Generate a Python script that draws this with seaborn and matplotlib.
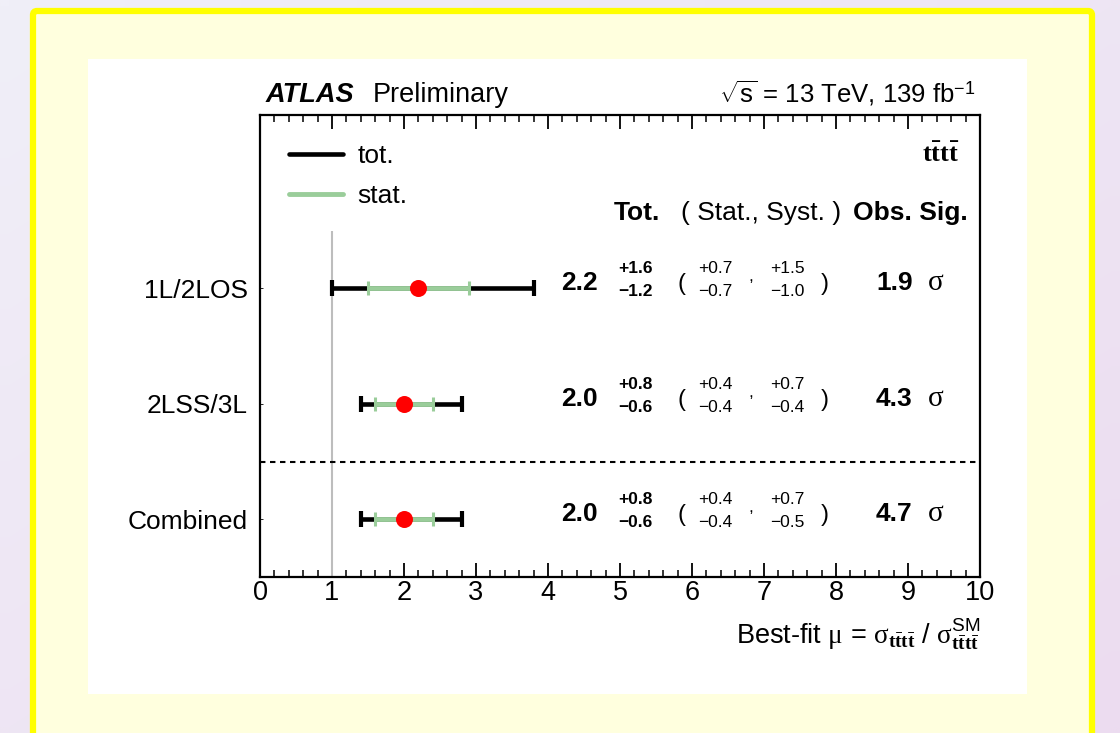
import numpy as np
import pandas as pd
import matplotlib
matplotlib.use("Agg")
import matplotlib.pyplot as plt
from matplotlib.lines import Line2D
from matplotlib.patches import FancyBboxPatch, Rectangle
from matplotlib.ticker import MultipleLocator
import seaborn as sns

# ---- measurement summary -------------------------------------------------
channels = ["1L/2LOS", "2LSS/3L", "Combined"]
mu_fit = [2.2, 2.0, 2.0]
tot_up = [1.6, 0.8, 0.8]
tot_dn = [1.2, 0.6, 0.6]
stat_up = [0.7, 0.4, 0.4]
stat_dn = [0.7, 0.4, 0.4]
syst_up = [1.5, 0.7, 0.7]
syst_dn = [1.0, 0.4, 0.5]
obs_sig = [1.9, 4.3, 4.7]
row_pos = [3, 2, 1]
x_ticks = list(range(0, 11))
sm_value = 1.0

sns.set_theme(style="ticks", rc={
    "text.color": "black", "axes.labelcolor": "black",
    "xtick.color": "black", "ytick.color": "black",
    "axes.edgecolor": "black",
})
plt.rcParams["font.family"] = ["Liberation Sans", "DejaVu Sans"]
plt.rcParams["mathtext.fontset"] = "custom"
plt.rcParams["mathtext.rm"] = "Liberation Serif"
plt.rcParams["mathtext.it"] = "Liberation Serif:italic"
plt.rcParams["mathtext.bf"] = "Liberation Serif:bold"
plt.rcParams["mathtext.sf"] = "Liberation Sans"

W, H = 1120, 733
fig = plt.figure(figsize=(W / 100, H / 100), dpi=100)

# ---- slide-style backdrop ------------------------------------------------
bg = fig.add_axes([0, 0, 1, 1], zorder=-10)
bg.set_xlim(0, W)
bg.set_ylim(H, 0)
bg.axis("off")
c0 = np.array([0xF0, 0xEF, 0xF8]) / 255
c1 = np.array([0xEC, 0xDC, 0xF0]) / 255
gx, gy = np.meshgrid(np.linspace(0, 1, 64), np.linspace(0, 1, 64))
t = ((gx + gy) / 2)[..., None]
grad = c0[None, None, :] * (1 - t) + c1[None, None, :] * t
bg.imshow(grad, extent=[0, W, H, 0], aspect="auto", interpolation="bilinear")
bg.add_patch(FancyBboxPatch((33, 11), 1059, 760,
                            boxstyle="round,pad=0,rounding_size=4",
                            fc="#FFFFDE", ec="#FFFF00", lw=4.5))
bg.add_patch(Rectangle((88, 59), 939, 635, fc="white", ec="none"))

# ---- main panel ------------------------------------------------------------
ax = fig.add_axes([260 / W, 1 - 577 / H, 720 / W, 462 / H])
ax.set_facecolor("none")

ax.vlines(sm_value, 0.5, 3.5, color="#BDBDBD", lw=1.5, zorder=1)
ax.axhline(1.5, color="black", lw=1.5, ls=(0, (2.6, 2.2)), zorder=1)

ax.errorbar(mu_fit, row_pos, xerr=[tot_dn, tot_up], fmt="none",
            ecolor="black", elinewidth=3.3, capsize=5.8, capthick=3.0, zorder=2)
ax.errorbar(mu_fit, row_pos, xerr=[stat_dn, stat_up], fmt="none",
            ecolor="#9ACD9A", elinewidth=3.5, capsize=5.0, capthick=2.2, zorder=3)
df = pd.DataFrame({"mu": mu_fit, "pos": row_pos})
sns.scatterplot(data=df, x="mu", y="pos", color="#FF0000", s=150,
                linewidth=0, zorder=4, ax=ax, legend=False)

ax.set_xlim(0, 10)
ax.set_ylim(0.5, 4.5)
ax.set_xlabel("")
ax.set_ylabel("")
ax.set_xticks(x_ticks)
ax.set_xticklabels([str(v) for v in x_ticks])
ax.xaxis.set_minor_locator(MultipleLocator(0.2))
ax.tick_params(axis="x", which="major", direction="in", length=10, width=1.3,
               top=True, bottom=True, labelsize=19.5, pad=2.5)
ax.tick_params(axis="x", which="minor", direction="in", length=5, width=1.1,
               top=True, bottom=True)
ax.set_yticks(row_pos)
ax.set_yticklabels(channels)
ax.tick_params(axis="y", which="major", direction="in", length=2, width=0.6,
               left=True, right=False, labelsize=19, pad=9)
ax.tick_params(axis="y", which="minor", left=False, right=False)
for sp in ax.spines.values():
    sp.set_visible(True)
    sp.set_linewidth(1.6)
    sp.set_color("black")

# legend
handles = [Line2D([], [], color="black", lw=3.3),
           Line2D([], [], color="#9ACD9A", lw=3.5)]
ax.legend(handles, ["tot.", "stat."], loc="upper left",
          bbox_to_anchor=(0.040, 0.937), frameon=False, fontsize=19,
          handlelength=2.05, handletextpad=0.55, labelspacing=0.6,
          borderpad=0, borderaxespad=0)

ax.text(9.72, 4.157, r"$\mathbf{t\bar{t}t\bar{t}}$", ha="right", va="center",
        fontsize=19)

# column headers
hdr_y = 3.587
ax.text(5.24, hdr_y, "Tot.", ha="center", va="baseline", fontsize=19,
        fontweight="bold")
ax.text(6.96, hdr_y, "( Stat., Syst. )", ha="center", va="baseline",
        fontsize=19)
ax.text(9.03, hdr_y, "Obs. Sig.", ha="center", va="baseline", fontsize=19,
        fontweight="bold")

# per-row numbers
for i, p in enumerate(row_pos):
    yb = p - 0.017
    yu = p + 0.13
    yd = p - 0.07
    ax.text(4.44, yb, f"{mu_fit[i]:.1f}", ha="center", va="baseline",
            fontsize=19, fontweight="bold")
    ax.text(5.22, yu, f"+{tot_up[i]:.1f}", ha="center", va="baseline",
            fontsize=12.5, fontweight="bold")
    ax.text(5.22, yd, f"\u2212{tot_dn[i]:.1f}", ha="center", va="baseline",
            fontsize=12.5, fontweight="bold")
    ax.text(5.86, yb, "(", ha="center", va="baseline", fontsize=17)
    ax.text(6.32, yu, f"+{stat_up[i]:.1f}", ha="center", va="baseline",
            fontsize=12.5)
    ax.text(6.32, yd, f"\u2212{stat_dn[i]:.1f}", ha="center", va="baseline",
            fontsize=12.5)
    ax.text(6.82, p + 0.06, ",", ha="center", va="baseline", fontsize=12.5)
    ax.text(7.32, yu, f"+{syst_up[i]:.1f}", ha="center", va="baseline",
            fontsize=12.5)
    ax.text(7.32, yd, f"\u2212{syst_dn[i]:.1f}", ha="center", va="baseline",
            fontsize=12.5)
    ax.text(7.85, yb, ")", ha="center", va="baseline", fontsize=17)
    ax.text(8.81, yb, f"{obs_sig[i]:.1f}", ha="center", va="baseline",
            fontsize=19, fontweight="bold")
    ax.text(9.38, yb, "\u03c3", ha="center", va="baseline", fontsize=21,
            family="Liberation Serif")

# figure-level labels
fig.text(266 / W, 1 - 102 / H, "ATLAS", fontsize=19.5, fontweight="bold",
         style="italic", va="baseline", ha="left")
fig.text(373 / W, 1 - 102 / H, "Preliminary", fontsize=19.5, va="baseline",
         ha="left")
fig.text(976 / W, 1 - 102 / H,
         r"$\sqrt{\mathsf{s}}$ = 13 TeV, 139 fb$^{\mathsf{-1}}$",
         fontsize=18.5, va="baseline", ha="right")
fig.text(980 / W, 1 - 644 / H,
         r"Best-fit $\mathrm{\mu}$ = $\mathrm{\sigma}_{\mathbf{t\bar{t}t\bar{t}}}$"
         r" / $\mathrm{\sigma}^{\mathsf{SM}}_{\mathbf{t\bar{t}t\bar{t}}}$",
         fontsize=19.5, va="baseline", ha="right")

fig.savefig("out.png", dpi=100)
